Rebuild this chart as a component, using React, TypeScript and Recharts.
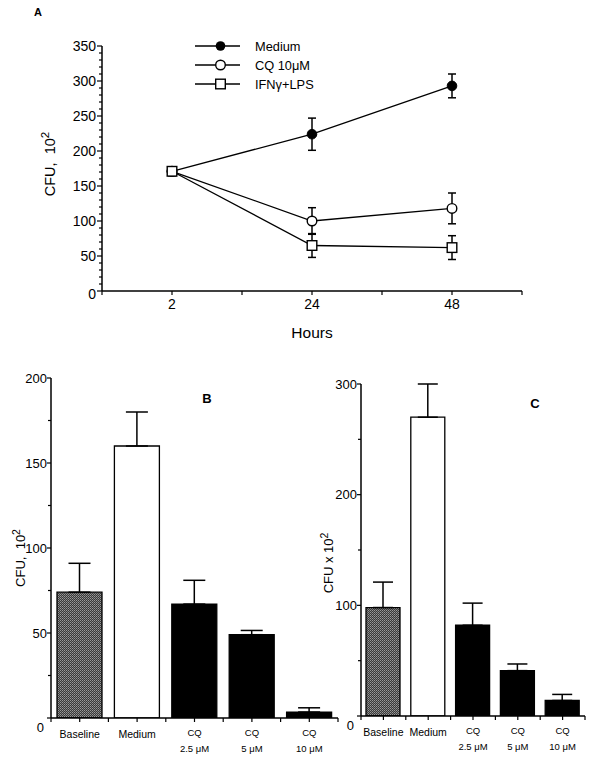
import React from 'react';
import { LineChart, Line, XAxis, YAxis, ErrorBar, Legend, BarChart, Bar, Cell, Label } from 'recharts';

const FONT = '"Liberation Sans", Arial, Helvetica, sans-serif';

// ---- Panel A data ----
const hours = ['2', '24', '48'];
const mediumA = [171, 224, 293];
const mediumAErr = [6, 23, 17];
const cqA = [171, 100, 118];
const cqAErr = [6, 19, 22];
const ifnA = [171, 65, 62];
const ifnAErr = [6, 17, 17];
const seriesNames = ['Medium', 'CQ 10μM', 'IFNγ+LPS'];

// ---- Panels B / C data ----
const categories = ['Baseline', 'Medium', 'CQ 2.5 μM', 'CQ 5 μM', 'CQ 10 μM'];
const labelTop = ['Baseline', 'Medium', 'CQ', 'CQ', 'CQ'];
const labelBottom = ['', '', '2.5 μM', '5 μM', '10 μM'];
const bValues = [74, 160, 67, 49, 3.5];
const bErr = [17, 20, 14, 2.5, 2.5];
const cValues = [98, 270, 82, 41, 14];
const cErr = [23, 30, 20, 6, 5.5];

const aYTicks = Array.from({ length: 36 }, (_, i) => i * 10);
const aXTicks = [0, 1, 2, 3, 4, 5, 6];
const bYTicks = [0, 25, 50, 75, 100, 125, 150, 175, 200];
const cYTicks = [0, 50, 100, 150, 200, 250, 300];

const BAR_FILLS = ['url(#baselineHatch)', '#ffffff', '#000000', '#000000', '#000000'];

const dataA = hours.map((h, i) => ({
  x: 2 * i + 1,
  hour: h,
  medium: mediumA[i],
  mediumErr: mediumAErr[i],
  cq: cqA[i],
  cqErr: cqAErr[i],
  ifn: ifnA[i],
  ifnErr: ifnAErr[i],
}));

const dataB = categories.map((c, i) => ({ name: c, value: bValues[i], err: [0, bErr[i]] }));
const dataC = categories.map((c, i) => ({ name: c, value: cValues[i], err: [0, cErr[i]] }));

// ---- markers ----
const FilledDot = (p: any) =>
  p.cx == null ? null : <circle key={p.key} cx={p.cx} cy={p.cy} r={4.8} fill="#000" stroke="#000" strokeWidth={1} />;
const OpenDot = (p: any) =>
  p.cx == null ? null : <circle key={p.key} cx={p.cx} cy={p.cy} r={4.8} fill="#fff" stroke="#000" strokeWidth={1.4} />;
const SquareDot = (p: any) =>
  p.cx == null ? null : (
    <rect key={p.key} x={p.cx - 4.8} y={p.cy - 4.8} width={9.6} height={9.6} fill="#fff" stroke="#000" strokeWidth={1.4} />
  );

const markerFor = (i: number, cx: number, cy: number) => {
  if (i === 0) return <circle cx={cx} cy={cy} r={4.8} fill="#000" />;
  if (i === 1) return <circle cx={cx} cy={cy} r={4.8} fill="#fff" stroke="#000" strokeWidth={1.4} />;
  return <rect x={cx - 4.8} y={cy - 4.8} width={9.6} height={9.6} fill="#fff" stroke="#000" strokeWidth={1.4} />;
};

const LegendA = () => (
  <svg width={160} height={60} style={{ fontFamily: FONT }}>
    {seriesNames.map((n, i) => {
      const y = 10 + i * 19;
      return (
        <g key={n}>
          <line x1={5} x2={50} y1={y} y2={y} stroke="#000" strokeWidth={1.3} />
          {markerFor(i, 30.5, y)}
          <text x={65} y={y + 4.5} fontSize={12.8} fill="#000">
            {n}
          </text>
        </g>
      );
    })}
  </svg>
);

// ---- ticks ----
const AYTick = (props: any) => {
  const { x, y, payload } = props;
  const v = payload.value;
  const major = v % 50 === 0;
  return (
    <g>
      <line x1={x - (major ? 5 : 3)} x2={x} y1={y} y2={y} stroke="#000" strokeWidth={1.2} />
      {major && (
        <text x={x - 6} y={y + (v === 0 ? 3 : 0)} dy={5} textAnchor="end" fontSize={14} fill="#000" fontFamily={FONT}>
          {v}
        </text>
      )}
    </g>
  );
};

const AXTick = (props: any) => {
  const { x, y, payload } = props;
  const v = payload.value;
  const label = v % 2 === 1 ? hours[(v - 1) / 2] : '';
  return (
    <g>
      <line x1={x} x2={x} y1={y} y2={y + 4} stroke="#000" strokeWidth={1.2} />
      {label && (
        <text x={x} y={y + 18} textAnchor="middle" fontSize={14} fill="#000" fontFamily={FONT}>
          {label}
        </text>
      )}
    </g>
  );
};

const makeBarYTick = (majorStep: number) => (props: any) => {
  const { x, y, payload } = props;
  const v = payload.value;
  const major = v % majorStep === 0;
  return (
    <g>
      <line x1={x - (major ? 4 : 3)} x2={x} y1={y} y2={y} stroke="#000" strokeWidth={1.2} />
      {major && (
        <text
          x={v === 0 ? x - 7 : x - 4}
          y={v === 0 ? y + 9 : y}
          dy={4.6}
          textAnchor="end"
          fontSize={13}
          fill="#000"
          fontFamily={FONT}
        >
          {v}
        </text>
      )}
    </g>
  );
};

const makeBarXTick = (band: number) => (props: any) => {
  const { x, y, index } = props;
  const top = labelTop[index];
  const bottom = labelBottom[index];
  return (
    <g>
      <line x1={x} x2={x} y1={y} y2={y + 4} stroke="#000" strokeWidth={1.2} />
      <line x1={x + band / 2} x2={x + band / 2} y1={y} y2={y + 4} stroke="#000" strokeWidth={1.2} />
      {index === 0 && <line x1={x - band / 2} x2={x - band / 2} y1={y} y2={y + 4} stroke="#000" strokeWidth={1.2} />}
      {bottom ? (
        <>
          <text x={x} y={y + 17.5} textAnchor="middle" fontSize={9.5} fill="#000" fontFamily={FONT}>
            {top}
          </text>
          <text x={x} y={y + 33.5} textAnchor="middle" fontSize={9.5} fill="#000" fontFamily={FONT}>
            {bottom}
          </text>
        </>
      ) : (
        <text x={x} y={y + 20} textAnchor="middle" fontSize={10.5} fill="#000" fontFamily={FONT}>
          {top}
        </text>
      )}
    </g>
  );
};

const BXTick = makeBarXTick(57.4);
const CXTick = makeBarXTick(44.8);
const BYTick = makeBarYTick(50);
const CYTick = makeBarYTick(100);

const RotLabel = (x: number, y: number, main: string, size: number) => () =>
  (
    <text
      x={x}
      y={y}
      transform={`rotate(-90, ${x}, ${y})`}
      textAnchor="middle"
      fontSize={size}
      fill="#000"
      fontFamily={FONT}
      style={{ whiteSpace: 'pre' }}
    >
      {main}
      <tspan dy={-size * 0.42} fontSize={size * 0.8}>
        2
      </tspan>
    </text>
  );

const axisLine = { stroke: '#000', strokeWidth: 1.5 };

export default function App() {
  return (
    <div
      style={{
        position: 'absolute',
        left: 0,
        top: 0,
        width: 590,
        height: 757,
        background: '#fff',
        fontFamily: FONT,
        overflow: 'hidden',
      }}
    >
      <svg width={0} height={0} style={{ position: 'absolute' }}>
        <defs>
          <pattern id="baselineHatch" width={2} height={2} patternUnits="userSpaceOnUse">
            <rect x={0} y={0} width={2} height={2} fill="#3a3a3a" />
            <rect x={0} y={0} width={1} height={1} fill="#9a9a9a" />
            <rect x={1} y={1} width={1} height={1} fill="#7a7a7a" />
          </pattern>
        </defs>
      </svg>

      {/* Panel A */}
      <div style={{ position: 'absolute', left: 0, top: 0 }}>
        <LineChart width={590} height={345} data={dataA} margin={{ top: 46, right: 68, bottom: 0, left: 0 }}>
          <XAxis
            type="number"
            dataKey="x"
            domain={[0, 6]}
            allowDataOverflow
            ticks={aXTicks}
            interval={0}
            tick={<AXTick />}
            tickLine={false}
            tickSize={0}
            tickMargin={0}
            axisLine={axisLine}
            height={54}
          >
            <Label
              content={() => (
                <text x={312} y={338} textAnchor="middle" fontSize={15.5} fill="#000" fontFamily={FONT}>
                  Hours
                </text>
              )}
            />
          </XAxis>
          <YAxis
            type="number"
            domain={[0, 350]}
            allowDataOverflow
            ticks={aYTicks}
            interval={0}
            tick={<AYTick />}
            tickLine={false}
            tickSize={0}
            tickMargin={0}
            axisLine={axisLine}
            width={102}
          >
            <Label content={RotLabel(55, 164, 'CFU,  10', 14.5)} />
          </YAxis>
          <Legend
            layout="vertical"
            align="center"
            verticalAlign="middle"
            content={() => <LegendA />}
            wrapperStyle={{ position: 'absolute', left: 190, top: 36, width: 160, height: 60 }}
          />
          <Line
            dataKey="medium"
            name="Medium"
            stroke="#000"
            strokeWidth={1.3}
            dot={<FilledDot />}
            isAnimationActive={false}
          >
            <ErrorBar dataKey="mediumErr" width={4} stroke="#000" strokeWidth={1.5} direction="y" />
          </Line>
          <Line dataKey="cq" name="CQ 10μM" stroke="#000" strokeWidth={1.3} dot={<OpenDot />} isAnimationActive={false}>
            <ErrorBar dataKey="cqErr" width={4} stroke="#000" strokeWidth={1.5} direction="y" />
          </Line>
          <Line dataKey="ifn" name="IFNγ+LPS" stroke="#000" strokeWidth={1.3} dot={<SquareDot />} isAnimationActive={false}>
            <ErrorBar dataKey="ifnErr" width={4} stroke="#000" strokeWidth={1.5} direction="y" />
          </Line>
        </LineChart>
      </div>

      {/* Panel B */}
      <div style={{ position: 'absolute', left: 0, top: 360 }}>
        <BarChart width={345} height={397} data={dataB} margin={{ top: 18, right: 7, bottom: 0, left: 0 }}>
          <XAxis
            dataKey="name"
            interval={0}
            tick={<BXTick />}
            tickLine={false}
            tickSize={0}
            tickMargin={0}
            axisLine={axisLine}
            height={39}
          />
          <YAxis
            type="number"
            domain={[0, 200]}
            allowDataOverflow
            ticks={bYTicks}
            interval={0}
            tick={<BYTick />}
            tickLine={false}
            tickSize={0}
            tickMargin={0}
            axisLine={axisLine}
            width={51}
          >
            <Label content={RotLabel(25, 198, 'CFU,  10', 13)} />
          </YAxis>
          <Bar dataKey="value" barSize={45} stroke="#000" strokeWidth={1.3} isAnimationActive={false}>
            {dataB.map((d, i) => (
              <Cell key={d.name} fill={BAR_FILLS[i]} />
            ))}
            <ErrorBar dataKey="err" width={11} stroke="#000" strokeWidth={1.5} direction="y" />
          </Bar>
        </BarChart>
      </div>

      {/* Panel C */}
      <div style={{ position: 'absolute', left: 300, top: 360 }}>
        <BarChart width={290} height={397} data={dataC} margin={{ top: 24, right: 5, bottom: 0, left: 0 }}>
          <XAxis
            dataKey="name"
            interval={0}
            tick={<CXTick />}
            tickLine={false}
            tickSize={0}
            tickMargin={0}
            axisLine={axisLine}
            height={41}
          />
          <YAxis
            type="number"
            domain={[0, 300]}
            allowDataOverflow
            ticks={cYTicks}
            interval={0}
            tick={<CYTick />}
            tickLine={false}
            tickSize={0}
            tickMargin={0}
            axisLine={axisLine}
            width={61}
          >
            <Label content={RotLabel(33, 203, 'CFU x 10', 13)} />
          </YAxis>
          <Bar dataKey="value" barSize={34} stroke="#000" strokeWidth={1.3} isAnimationActive={false}>
            {dataC.map((d, i) => (
              <Cell key={d.name} fill={BAR_FILLS[i]} />
            ))}
            <ErrorBar dataKey="err" width={10} stroke="#000" strokeWidth={1.5} direction="y" />
          </Bar>
        </BarChart>
      </div>

      {/* Panel letters */}
      <svg width={590} height={757} style={{ position: 'absolute', left: 0, top: 0, pointerEvents: 'none' }}>
        <text x={38} y={16} textAnchor="middle" fontSize={11} fontWeight="bold" fill="#000" fontFamily={FONT}>
          A
        </text>
        <text x={207} y={403} textAnchor="middle" fontSize={13} fontWeight="bold" fill="#000" fontFamily={FONT}>
          B
        </text>
        <text x={535} y={408} textAnchor="middle" fontSize={13} fontWeight="bold" fill="#000" fontFamily={FONT}>
          C
        </text>
      </svg>
    </div>
  );
}
